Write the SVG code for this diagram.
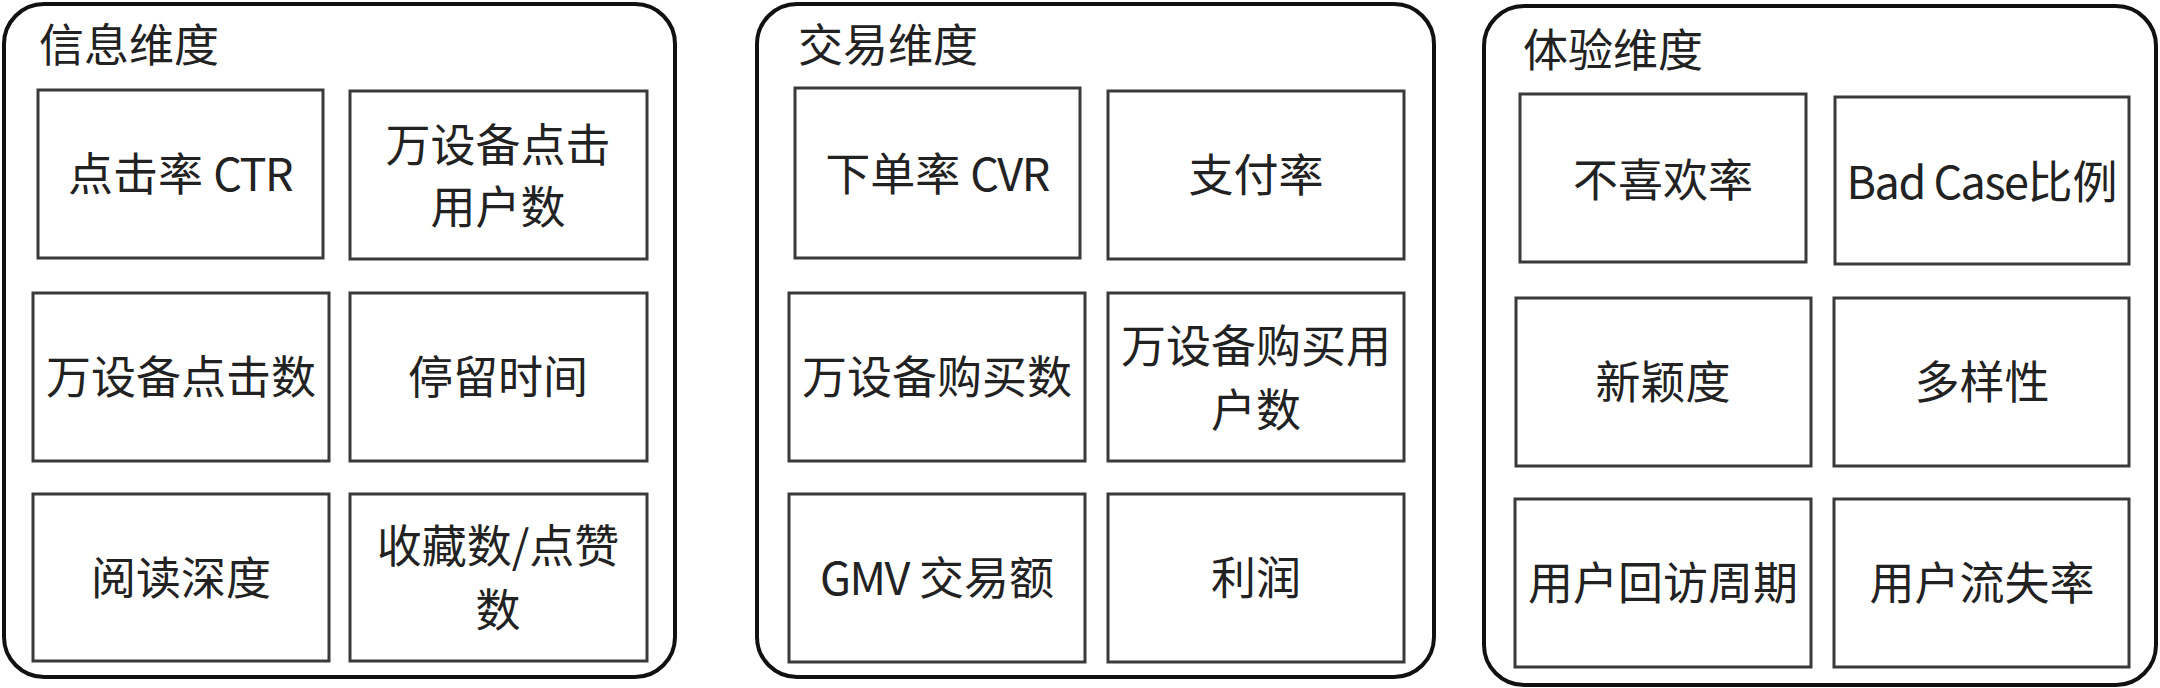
<svg xmlns="http://www.w3.org/2000/svg" width="2160" height="688" viewBox="0 0 2160 688">
<style>
.panel{fill:#fff;stroke:#111;stroke-width:4}
.box{fill:#fff;stroke:#3a3a3a;stroke-width:3}
.t{font-family:"Noto Sans CJK SC","Liberation Sans",sans-serif;font-size:45px;fill:#222;text-anchor:middle}
.title{font-family:"Noto Sans CJK SC","Liberation Sans",sans-serif;font-size:45px;fill:#222}
.lat{letter-spacing:-1.5px}
</style>
<rect width="2160" height="688" fill="#fff"/>
<g id="panel-info">
<rect class="panel" x="4" y="4" width="671" height="673" rx="40" ry="40"/>
<text class="title" x="39" y="62">信息维度</text>
</g>
<g id="panel-trade">
<rect class="panel" x="757" y="4" width="677" height="673" rx="40" ry="40"/>
<text class="title" x="798" y="62">交易维度</text>
</g>
<g id="panel-exp">
<rect class="panel" x="1484" y="6" width="672" height="679" rx="40" ry="40"/>
<text class="title" x="1523" y="67">体验维度</text>
</g>
<g id="n-ctr"><rect class="box" x="38" y="90" width="285" height="168"/><text class="t" x="180" y="191">点击率 <tspan class="lat">CTR</tspan></text></g>
<g id="n-click-users"><rect class="box" x="350" y="91" width="297" height="168"/><text class="t" x="498" y="162">万设备点击<tspan x="498" y="224">用户数</tspan></text></g>
<g id="n-clicks"><rect class="box" x="33" y="293" width="296" height="168"/><text class="t" x="181" y="394">万设备点击数</text></g>
<g id="n-dwell"><rect class="box" x="350" y="293" width="297" height="168"/><text class="t" x="498" y="394">停留时间</text></g>
<g id="n-depth"><rect class="box" x="33" y="494" width="296" height="167"/><text class="t" x="181" y="595">阅读深度</text></g>
<g id="n-fav"><rect class="box" x="350" y="494" width="297" height="167"/><text class="t" x="498" y="563">收藏数/点赞<tspan x="498" y="627">数</tspan></text></g>
<g id="n-cvr"><rect class="box" x="795" y="88" width="285" height="170"/><text class="t" x="937" y="191">下单率 <tspan class="lat">CVR</tspan></text></g>
<g id="n-pay"><rect class="box" x="1108" y="91" width="296" height="168"/><text class="t" x="1256" y="192">支付率</text></g>
<g id="n-buys"><rect class="box" x="789" y="293" width="296" height="168"/><text class="t" x="937" y="394">万设备购买数</text></g>
<g id="n-buy-users"><rect class="box" x="1108" y="293" width="296" height="168"/><text class="t" x="1256" y="363">万设备购买用<tspan x="1256" y="427">户数</tspan></text></g>
<g id="n-gmv"><rect class="box" x="789" y="494" width="296" height="168"/><text class="t" x="937" y="595"><tspan class="lat">GMV</tspan> 交易额</text></g>
<g id="n-profit"><rect class="box" x="1108" y="494" width="296" height="168"/><text class="t" x="1256" y="595">利润</text></g>
<g id="n-dislike"><rect class="box" x="1520" y="94" width="286" height="168"/><text class="t" x="1663" y="197">不喜欢率</text></g>
<g id="n-badcase"><rect class="box" x="1835" y="97" width="294" height="167"/><text class="t" x="1982" y="199"><tspan class="lat">Bad Case</tspan>比例</text></g>
<g id="n-novelty"><rect class="box" x="1516" y="298" width="295" height="168"/><text class="t" x="1663" y="399">新颖度</text></g>
<g id="n-diversity"><rect class="box" x="1834" y="298" width="295" height="168"/><text class="t" x="1982" y="399">多样性</text></g>
<g id="n-revisit"><rect class="box" x="1515" y="499" width="296" height="168"/><text class="t" x="1663" y="600">用户回访周期</text></g>
<g id="n-churn"><rect class="box" x="1834" y="499" width="295" height="168"/><text class="t" x="1982" y="600">用户流失率</text></g>
<g id="connectors"/>
</svg>
